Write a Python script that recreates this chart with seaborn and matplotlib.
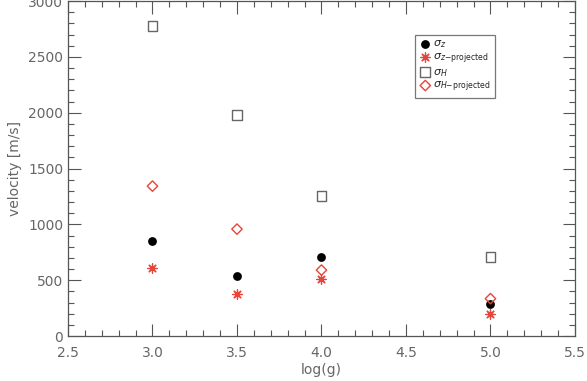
import matplotlib
matplotlib.use("Agg")
import matplotlib.pyplot as plt
from matplotlib.ticker import MultipleLocator
import seaborn as sns

# valores
logg = [3.0, 3.5, 4.0, 5.0]
sigma_z = [855, 537, 711, 283]
sigma_z_proj = [609, 380, 510, 197]
sigma_h = [2780, 1982, 1254, 707]
sigma_h_proj = [1343, 958, 591, 335]

sns.set_style("ticks")
plt.rcParams["font.family"] = ["DejaVu Sans"]
plt.rcParams["mathtext.fontset"] = "dejavusans"

GRAY = "#555555"
TXT = "#666666"
RED = "#e8443a"

fig = plt.figure(figsize=(5.87, 3.81), dpi=100)
ax = fig.add_axes([0.1158, 0.118, 0.8637, 0.879])

series = [
    (sigma_z, r"$\sigma_z$", dict(marker="o", s=40, facecolor="black", edgecolor="black", linewidth=0)),
    # marcador de linhas: matplotlib usa a facecolor para desenhar
    (sigma_z_proj, r"$\sigma_{z\mathrm{-projected}}$", dict(marker=(8, 2, 0), s=45, facecolor=RED, linewidth=0.9)),
    (sigma_h, r"$\sigma_H$", dict(marker="s", s=50, facecolor="none", edgecolor="#666666", linewidth=1.0)),
    (sigma_h_proj, r"$\sigma_{H\mathrm{-projected}}$", dict(marker="D", s=28, facecolor="none", edgecolor=RED, linewidth=1.0)),
]
for vals, lab, kw in series:
    sns.scatterplot(x=logg, y=vals, ax=ax, label=lab, **kw)

ax.set_xlim(2.5, 5.5)
ax.set_ylim(0, 3000)
ax.xaxis.set_major_locator(MultipleLocator(0.5))
ax.xaxis.set_minor_locator(MultipleLocator(0.1))
ax.yaxis.set_major_locator(MultipleLocator(500))
ax.yaxis.set_minor_locator(MultipleLocator(100))
ax.xaxis.set_major_formatter(matplotlib.ticker.FormatStrFormatter("%.1f"))

ax.tick_params(which="both", direction="in", top=True, right=True, colors=GRAY,
               labelcolor=TXT, labelsize=10, width=0.8)
ax.tick_params(which="major", length=9)
ax.tick_params(which="minor", length=4.5)
ax.tick_params(axis="x", pad=7)
for sp in ax.spines.values():
    sp.set_color(GRAY)
    sp.set_linewidth(0.9)

ax.set_xlabel("log(g)", color=TXT, fontsize=10, labelpad=2)
ax.set_ylabel("velocity [m/s]", color=TXT, fontsize=10, labelpad=4)

leg = ax.legend(loc="upper left", bbox_to_anchor=(0.684, 0.9), fontsize=8,
                frameon=True, fancybox=False, handletextpad=0.1, borderpad=0.35,
                labelspacing=0.1, handlelength=1.2, borderaxespad=0)
leg.get_frame().set_edgecolor(GRAY)
leg.get_frame().set_linewidth(0.9)

fig.savefig("out.png", dpi=100)
